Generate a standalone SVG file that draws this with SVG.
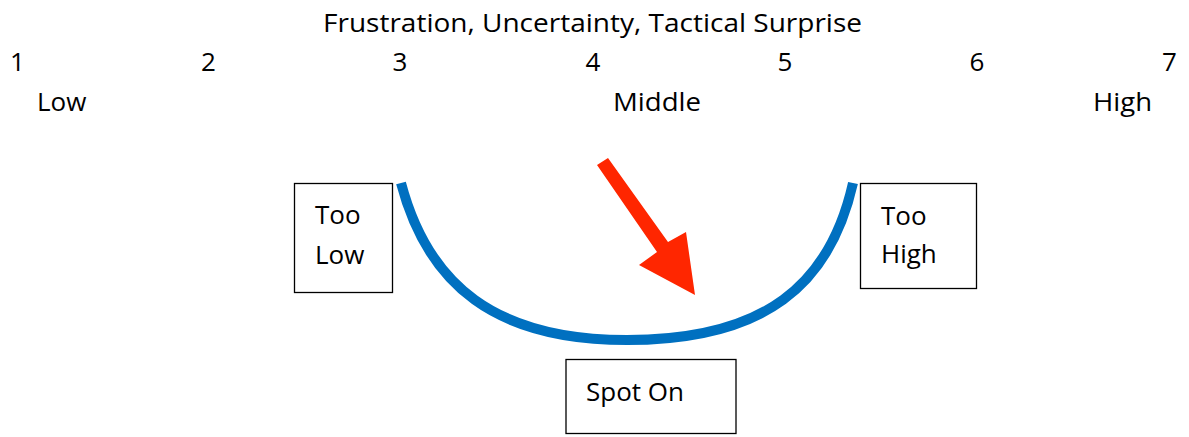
<svg xmlns="http://www.w3.org/2000/svg" width="1189" height="437" viewBox="0 0 1189 437">
<style>
text{font-family:"Open Sans","Liberation Sans",sans-serif;font-size:26px;fill:#000}
.box{fill:#fff;stroke:#000;stroke-width:1.3}
.curve{fill:none;stroke:#0070C0;stroke-width:10}
</style>
<rect width="1189" height="437" fill="#fff"/>
<g id="scale">
<text x="592.5" y="32" text-anchor="middle" textLength="539" lengthAdjust="spacingAndGlyphs">Frustration, Uncertainty, Tactical Surprise</text>
<text x="17.5" y="71" text-anchor="middle">1</text>
<text x="208.5" y="71" text-anchor="middle">2</text>
<text x="400" y="71" text-anchor="middle">3</text>
<text x="593" y="71" text-anchor="middle">4</text>
<text x="785" y="71" text-anchor="middle">5</text>
<text x="977" y="71" text-anchor="middle">6</text>
<text x="1169.5" y="71" text-anchor="middle">7</text>
<text x="37" y="111">Low</text>
<text x="613" y="111" textLength="88" lengthAdjust="spacingAndGlyphs">Middle</text>
<text x="1093" y="111" textLength="59" lengthAdjust="spacingAndGlyphs">High</text>
</g>
<g id="connectors">
<path class="curve" d="M401,183 C428,285 495,340 627,340"/>
<path class="curve" d="M627,340 C765,340 830,285 853,183"/>
<polygon points="597,165 608,158 668,242 686,232 695,295 639,265 657,252" fill="#FF2600"/>
</g>
<g id="too-low">
<rect class="box" x="294.5" y="183.5" width="98" height="109"/>
<text x="315" y="224">Too</text>
<text x="315" y="264">Low</text>
</g>
<g id="too-high">
<rect class="box" x="860.5" y="183.5" width="116" height="105"/>
<text x="881" y="225">Too</text>
<text x="881" y="263">High</text>
</g>
<g id="spot-on">
<rect class="box" x="566" y="359.5" width="170" height="74"/>
<text x="586" y="401">Spot On</text>
</g>
</svg>
